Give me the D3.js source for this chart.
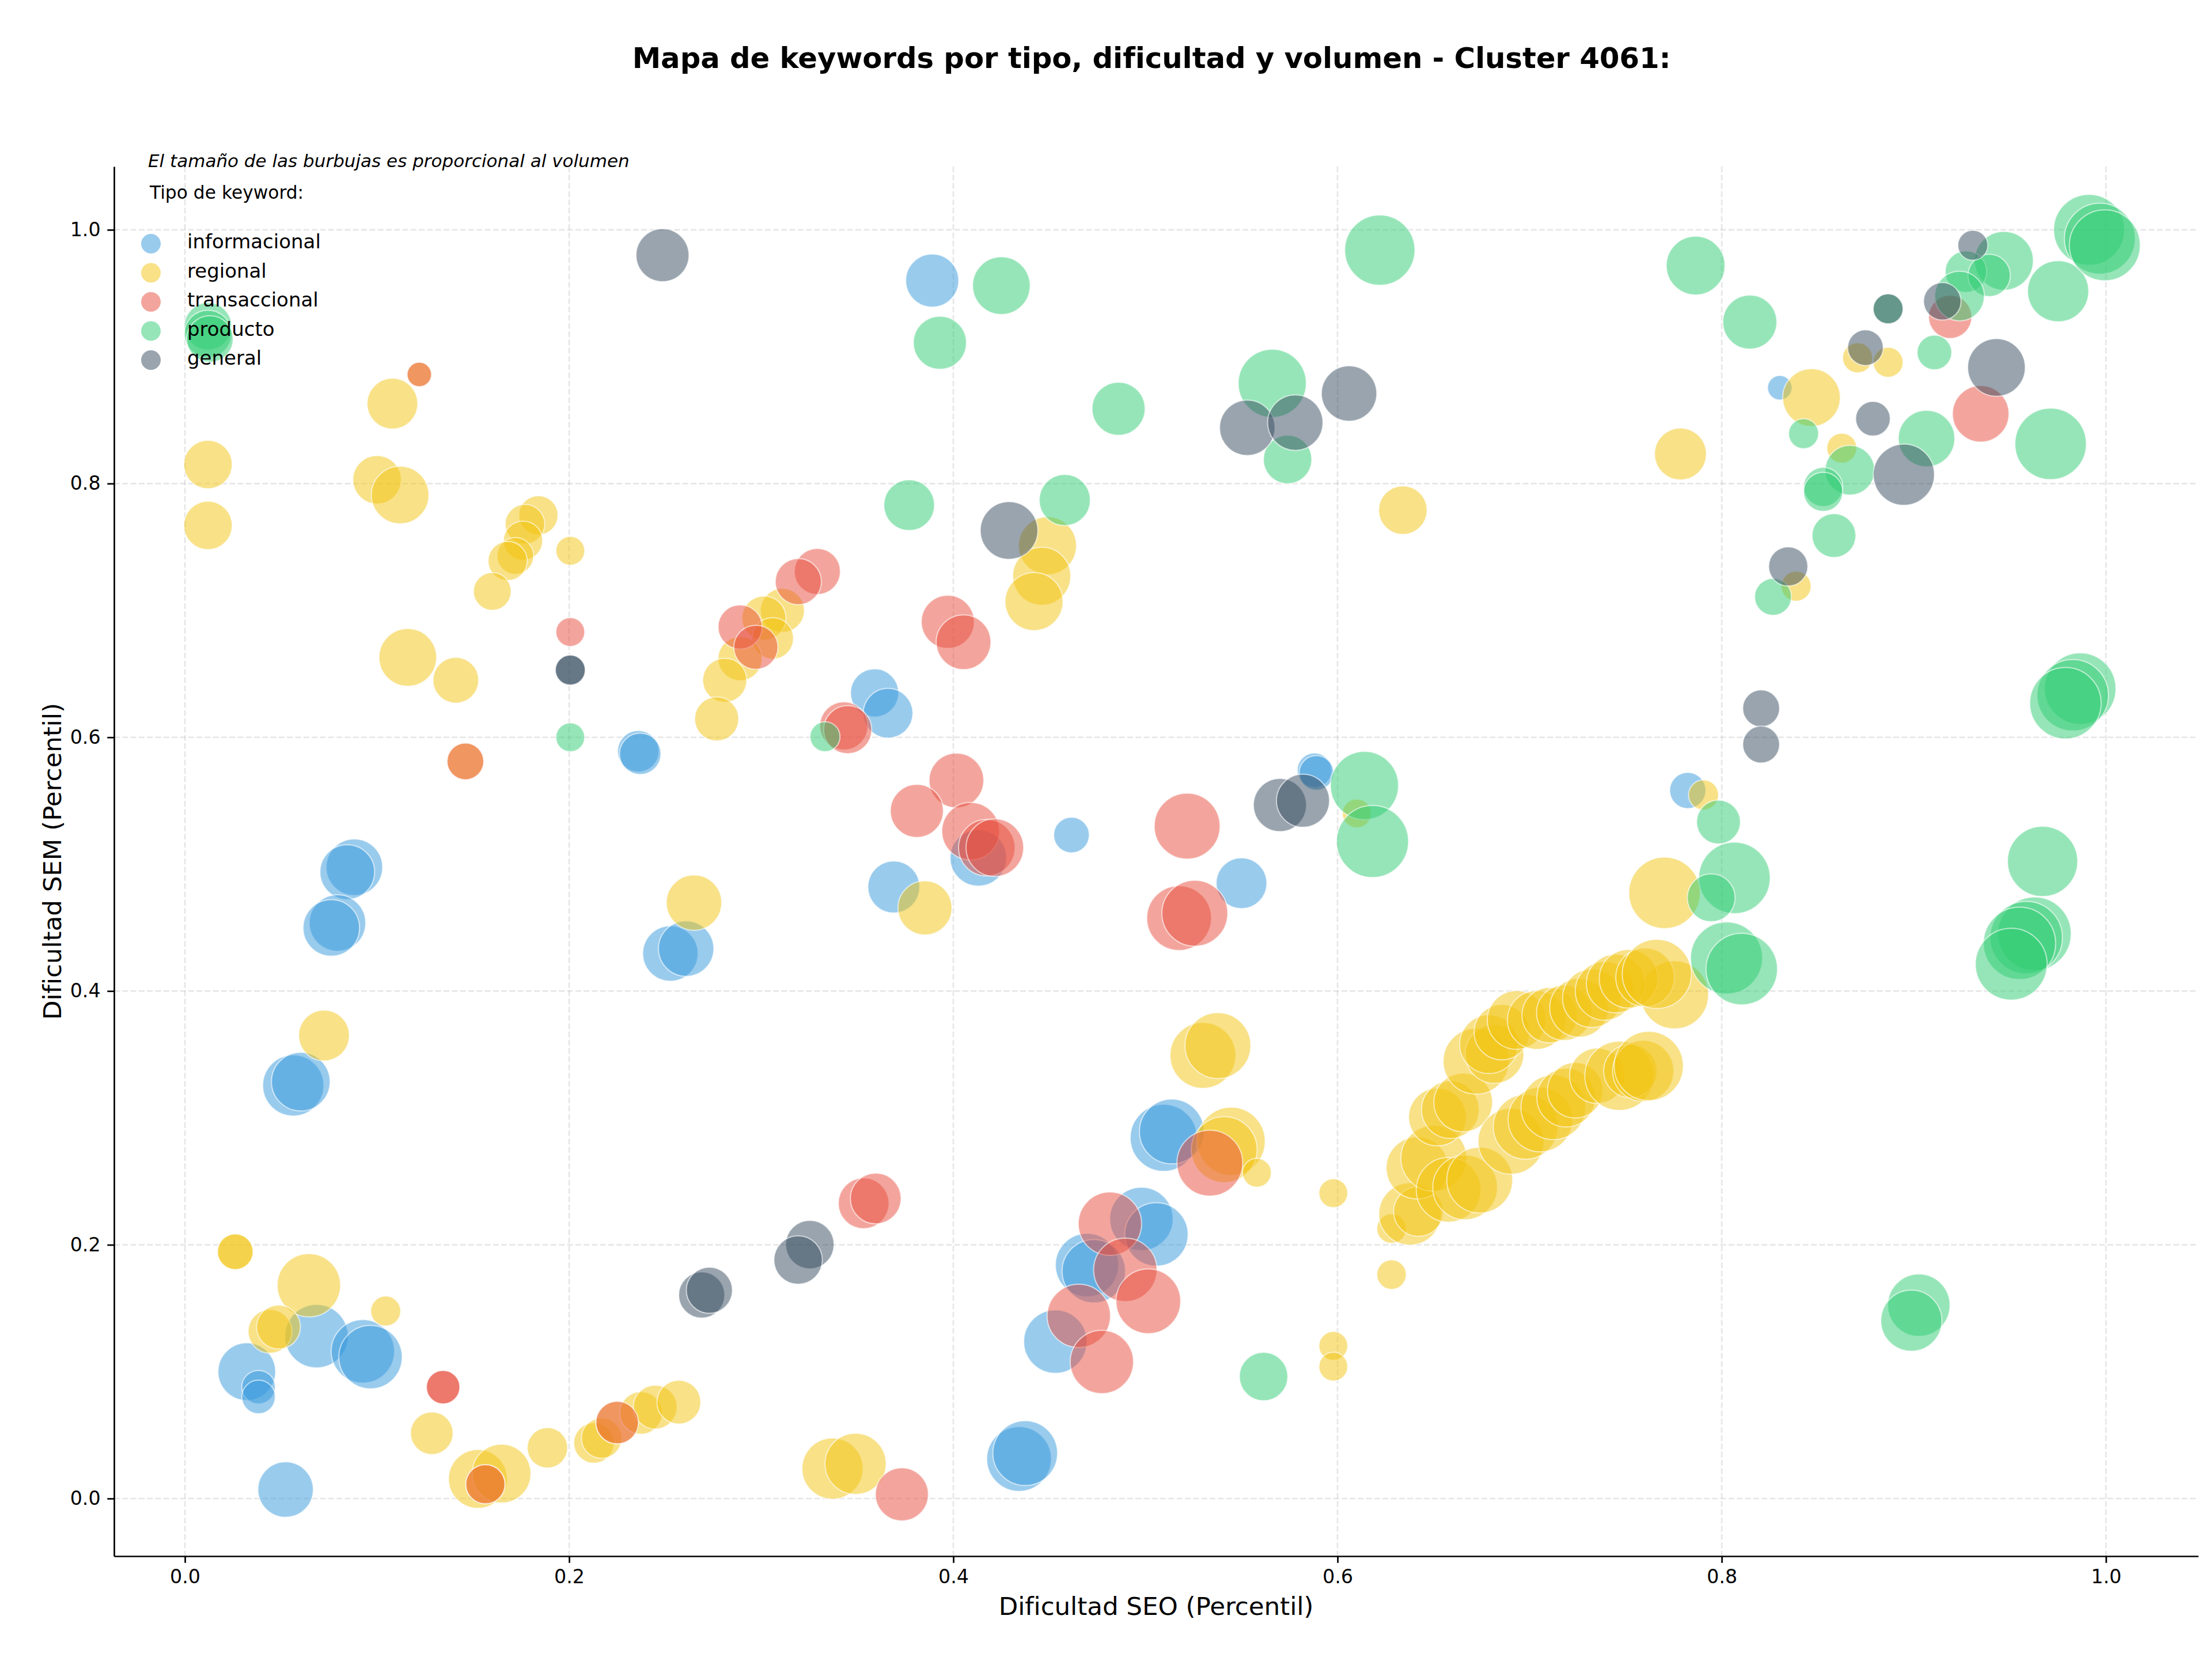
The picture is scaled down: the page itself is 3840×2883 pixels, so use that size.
<!DOCTYPE html>
<html lang="es">
<head>
<meta charset="utf-8">
<title>Mapa de keywords - Cluster 4061</title>
<script src="https://d3js.org/d3.v7.min.js"></script>
<style>
  body { margin: 0; background: #fff; }
  text { font-family: "DejaVu Sans", sans-serif; fill: #000; }
</style>
</head>
<body>
<svg width="3840" height="2883"></svg>
<script>
// tipos de keyword y colores
const tipos = ["informacional", "regional", "transaccional", "producto", "general"];
const colores = ["#3498db", "#f1c40f", "#e74c3c", "#2ecc71", "#34495e"];

// [dificultad SEO, dificultad SEM, volumen]
const informacional = [
  [0.389, 0.960, 376], [0.359, 0.635, 310], [0.366, 0.619, 330], [0.369, 0.482, 360],
  [0.236, 0.589, 230], [0.237, 0.587, 230], [0.588, 0.574, 160], [0.589, 0.572, 160],
  [0.4615, 0.523, 170], [0.413, 0.505, 427], [0.550, 0.485, 344],
  [0.5095, 0.2843, 600], [0.5137, 0.2893, 560], [0.4979, 0.2204, 537], [0.5057, 0.2082, 537],
  [0.4696, 0.184, 537], [0.4731, 0.1792, 537], [0.4531, 0.1237, 537],
  [0.4342, 0.0312, 560], [0.4374, 0.0358, 560],
  [0.0882, 0.4976, 427], [0.0845, 0.4938, 400], [0.0794, 0.4537, 427], [0.0762, 0.4498, 427],
  [0.2527, 0.4296, 410], [0.2609, 0.4334, 410], [0.0564, 0.3256, 500], [0.0603, 0.3286, 460],
  [0.0685, 0.128, 537], [0.0322, 0.100, 444], [0.0383, 0.0878, 150], [0.0383, 0.0801, 150],
  [0.0926, 0.116, 537], [0.0966, 0.1115, 537], [0.0524, 0.0071, 410],
  [0.8302, 0.8755, 80], [0.7823, 0.5581, 175]
];
const regional = [
  [0.122, 0.886, 80], [0.108, 0.863, 344], [0.012, 0.815, 314], [0.012, 0.767, 314],
  [0.100, 0.803, 314], [0.112, 0.791, 444], [0.184, 0.775, 205], [0.177, 0.768, 210],
  [0.176, 0.755, 205], [0.172, 0.743, 180], [0.168, 0.739, 205], [0.2006, 0.747, 111],
  [0.160, 0.715, 190], [0.116, 0.663, 444], [0.141, 0.645, 280], [0.146, 0.581, 180],
  [0.311, 0.700, 260], [0.3014, 0.694, 260], [0.306, 0.678, 230], [0.289, 0.662, 260],
  [0.281, 0.645, 260], [0.2768, 0.6145, 260],
  [0.449, 0.751, 450], [0.446, 0.727, 450], [0.442, 0.707, 450], [0.634, 0.779, 314],
  [0.265, 0.4697, 410], [0.3852, 0.4655, 390], [0.5299, 0.3493, 580], [0.5377, 0.357, 580],
  [0.5446, 0.2816, 620], [0.541, 0.275, 580], [0.558, 0.2568, 111], [0.5978, 0.2407, 111],
  [0.5978, 0.1203, 111], [0.5978, 0.104, 111], [0.3371, 0.0236, 500], [0.3491, 0.0274, 500],
  [0.0724, 0.365, 344], [0.0262, 0.1945, 170], [0.0262, 0.1945, 170], [0.0645, 0.1681, 537],
  [0.0443, 0.1318, 257], [0.0487, 0.1352, 257], [0.1045, 0.1478, 120], [0.1285, 0.0515, 243],
  [0.1525, 0.0155, 462], [0.1648, 0.0197, 462], [0.1564, 0.0113, 205], [0.1887, 0.040, 218],
  [0.2129, 0.0438, 218], [0.2169, 0.0476, 218], [0.225, 0.0599, 243], [0.2374, 0.0675, 243],
  [0.2448, 0.0721, 257], [0.2571, 0.076, 257], [0.610, 0.540, 111],
  [0.7702, 0.4774, 683], [0.7754, 0.397, 619],
  [0.6281, 0.2128, 116], [0.6281, 0.1765, 116],
  [0.6377, 0.2243, 518], [0.6421, 0.2262, 330], [0.6415, 0.2606, 518], [0.6501, 0.2682, 580],
  [0.6578, 0.2434, 560], [0.6664, 0.2453, 560], [0.674, 0.251, 580],
  [0.652, 0.3007, 444], [0.6587, 0.3065, 444], [0.6654, 0.3122, 460],
  [0.6721, 0.3447, 580], [0.6817, 0.3504, 460], [0.6788, 0.3581, 460], [0.6855, 0.3676, 410],
  [0.6932, 0.3772, 460], [0.7037, 0.3772, 460], [0.7104, 0.381, 410], [0.718, 0.3829, 410],
  [0.7257, 0.3868, 460], [0.7324, 0.3944, 460], [0.739, 0.4001, 460], [0.7448, 0.4059, 460],
  [0.7515, 0.4097, 460], [0.7601, 0.4108, 460], [0.7662, 0.4135, 640],
  [0.6903, 0.2816, 580], [0.6979, 0.293, 560], [0.7056, 0.2988, 560], [0.7123, 0.3084, 560],
  [0.719, 0.316, 460], [0.7237, 0.3218, 410], [0.7352, 0.3332, 410], [0.7467, 0.3332, 640],
  [0.7524, 0.337, 380], [0.7591, 0.337, 500], [0.762, 0.3409, 640],
  [0.7785, 0.8233, 360], [0.8707, 0.8991, 120], [0.8866, 0.8956, 120], [0.8467, 0.8678, 444],
  [0.8625, 0.8279, 120], [0.8387, 0.7191, 120], [0.7905, 0.5546, 120]
];
const transaccional = [
  [0.122, 0.886, 80], [0.146, 0.581, 180], [0.2006, 0.683, 111],
  [0.3292, 0.7307, 284], [0.3193, 0.7227, 284], [0.289, 0.687, 260], [0.2972, 0.671, 260],
  [0.3971, 0.691, 376], [0.4053, 0.675, 400], [0.343, 0.609, 310], [0.345, 0.606, 310],
  [0.4016, 0.566, 400], [0.381, 0.542, 376], [0.409, 0.526, 444], [0.4174, 0.513, 427],
  [0.4216, 0.513, 444], [0.5217, 0.530, 580], [0.5175, 0.4575, 560], [0.5257, 0.4613, 580],
  [0.5335, 0.2644, 580], [0.4815, 0.2166, 537], [0.4895, 0.1803, 537], [0.5015, 0.1555, 560],
  [0.4653, 0.144, 537], [0.4773, 0.1077, 537], [0.3732, 0.0033, 376],
  [0.3533, 0.2327, 344], [0.3596, 0.2365, 344], [0.1344, 0.0878, 150], [0.1344, 0.0878, 150],
  [0.1564, 0.0113, 205], [0.225, 0.0599, 243], [0.9189, 0.9314, 250], [0.9348, 0.855, 427]
];
const producto = [
  [0.012, 0.924, 300], [0.012, 0.918, 300], [0.013, 0.914, 290],
  [0.2006, 0.600, 111], [0.3332, 0.6005, 120], [0.425, 0.956, 444], [0.393, 0.911, 376],
  [0.486, 0.859, 376], [0.566, 0.879, 620], [0.574, 0.819, 314], [0.622, 0.984, 660],
  [0.377, 0.783, 344], [0.458, 0.787, 350], [0.614, 0.562, 620], [0.6182, 0.5179, 694],
  [0.5615, 0.0962, 314], [0.7983, 0.5332, 257], [0.8066, 0.4892, 683], [0.7945, 0.4735, 306],
  [0.8025, 0.4261, 694], [0.8104, 0.4173, 683],
  [0.967, 0.5022, 660], [0.9628, 0.4452, 720], [0.9585, 0.4422, 700], [0.955, 0.4376, 700],
  [0.9507, 0.4212, 690], [0.9026, 0.1524, 520], [0.8987, 0.1402, 500],
  [0.7864, 0.9718, 462], [0.8146, 0.9273, 390], [0.9469, 0.9756, 462], [0.9271, 0.967, 230],
  [0.9392, 0.9641, 240], [0.9238, 0.9478, 330], [0.8866, 0.9377, 120], [0.9751, 0.9516, 500],
  [0.9912, 1.000, 672], [0.9968, 0.993, 672], [0.9994, 0.9878, 672], [0.9107, 0.9033, 160],
  [0.8426, 0.8393, 120], [0.8667, 0.8105, 330], [0.8528, 0.7973, 205], [0.8528, 0.7935, 205],
  [0.9066, 0.8355, 427], [0.9712, 0.8313, 683], [0.8584, 0.759, 257], [0.8267, 0.7107, 182],
  [0.9866, 0.6384, 683], [0.9827, 0.6332, 683], [0.9789, 0.6269, 683]
];
const general = [
  [0.2486, 0.980, 375], [0.2006, 0.653, 120], [0.2006, 0.653, 120],
  [0.553, 0.844, 410], [0.578, 0.848, 410], [0.606, 0.871, 410], [0.429, 0.763, 444],
  [0.570, 0.5466, 376], [0.582, 0.550, 376], [0.3253, 0.2002, 314], [0.3192, 0.188, 314],
  [0.269, 0.1604, 284], [0.273, 0.1642, 284],
  [0.9307, 0.9878, 120], [0.9148, 0.9436, 188], [0.8866, 0.9377, 120], [0.8748, 0.9071, 170],
  [0.943, 0.8915, 444], [0.8787, 0.8511, 160], [0.8948, 0.807, 500], [0.8346, 0.7347, 205],
  [0.8205, 0.6228, 182], [0.8205, 0.5943, 182]
];
const tickValues = [0, 0.2, 0.4, 0.6, 0.8, 1.0];

const series = [informacional, regional, transaccional, producto, general];

const svg = d3.select("svg");
svg.append("rect").attr("width", 3840).attr("height", 2883).attr("fill", "#fff");

const plotLeft = 198, plotRight = 3816, plotTop = 289, plotBottom = 2701;

const x = d3.scaleLinear().domain([-0.0369, 1.048]).range([plotLeft, plotRight]);
const y = d3.scaleLinear().domain([-0.0454, 1.0499]).range([plotBottom, plotTop]);
const r = d3.scaleSqrt().domain([0, 1000]).range([0, 75]);

// grid
const grid = svg.append("g");
grid.selectAll(".gx").data(tickValues).enter().append("line")
    .attr("x1", d => x(d)).attr("x2", d => x(d))
    .attr("y1", plotTop).attr("y2", plotBottom);
grid.selectAll(".gy").data(tickValues).enter().append("line")
    .attr("x1", plotLeft).attr("x2", plotRight)
    .attr("y1", d => y(d)).attr("y2", d => y(d));
grid.selectAll("line")
    .attr("stroke", "#b0b0b0")
    .attr("stroke-opacity", 0.32)
    .attr("stroke-width", 2.7)
    .attr("stroke-dasharray", "10,4.3");

// bubbles, one group per tipo
const groups = svg.selectAll("g.tipo")
    .data(series)
    .enter()
    .append("g")
    .attr("class", "tipo")
    .style("fill", (d, i) => colores[i]);

groups.selectAll("circle")
    .data(d => d)
    .enter()
    .append("circle")
    .attr("cx", d => x(d[0]))
    .attr("cy", d => y(d[1]))
    .attr("r", d => r(d[2]))
    .attr("fill-opacity", 0.5)
    .attr("stroke", "#fff")
    .attr("stroke-opacity", 0.6)
    .attr("stroke-width", 2);

// axes
const fmt = d3.format(".1f");
const xAxis = svg.append("g")
    .attr("transform", `translate(0,${plotBottom})`)
    .call(d3.axisBottom(x).tickValues(tickValues).tickFormat(fmt).tickSize(11.7).tickSizeOuter(0).tickPadding(11.7));
const yAxis = svg.append("g")
    .attr("transform", `translate(${plotLeft},0)`)
    .call(d3.axisLeft(y).tickValues(tickValues).tickFormat(fmt).tickSize(11.7).tickSizeOuter(0).tickPadding(11.7));

[xAxis, yAxis].forEach(a => {
  a.selectAll("path.domain").attr("stroke", "#000").attr("stroke-width", 2.7);
  a.selectAll(".tick line").attr("stroke", "#000").attr("stroke-width", 2.7);
  a.selectAll(".tick text")
    .style("font-family", "'DejaVu Sans', sans-serif")
    .style("font-size", "33.3px")
    .attr("fill", "#000");
});

// axis labels
svg.append("text")
    .attr("x", (plotLeft + plotRight) / 2)
    .attr("y", 2803)
    .attr("text-anchor", "middle")
    .style("font-size", "43.5px")
    .text("Dificultad SEO (Percentil)");

svg.append("text")
    .attr("transform", `translate(106,${(plotTop + plotBottom) / 2}) rotate(-90)`)
    .attr("text-anchor", "middle")
    .style("font-size", "43.5px")
    .text("Dificultad SEM (Percentil)");

// title
svg.append("text")
    .attr("x", (plotLeft + plotRight) / 2 - 8)
    .attr("y", 118)
    .attr("text-anchor", "middle")
    .style("font-size", "49.7px")
    .style("font-weight", "bold")
    .text("Mapa de keywords por tipo, dificultad y volumen - Cluster 4061:");

// nota
svg.append("text")
    .attr("x", 257)
    .attr("y", 290)
    .style("font-size", "31px")
    .style("font-style", "italic")
    .text("El tamaño de las burbujas es proporcional al volumen");

// legend
const legend = svg.append("g");
legend.append("text")
    .attr("x", 260)
    .attr("y", 345)
    .style("font-size", "31.3px")
    .text("Tipo de keyword:");

const items = legend.selectAll("g.item")
    .data(tipos)
    .enter()
    .append("g")
    .attr("class", "item")
    .attr("transform", (d, i) => `translate(262,${423 + i * 50.5})`);

items.append("circle")
    .attr("r", 17)
    .attr("fill", (d, i) => colores[i])
    .attr("fill-opacity", 0.5);

items.append("text")
    .attr("x", 63)
    .attr("y", 8)
    .style("font-size", "34px")
    .text(d => d);
</script>
</body>
</html>
